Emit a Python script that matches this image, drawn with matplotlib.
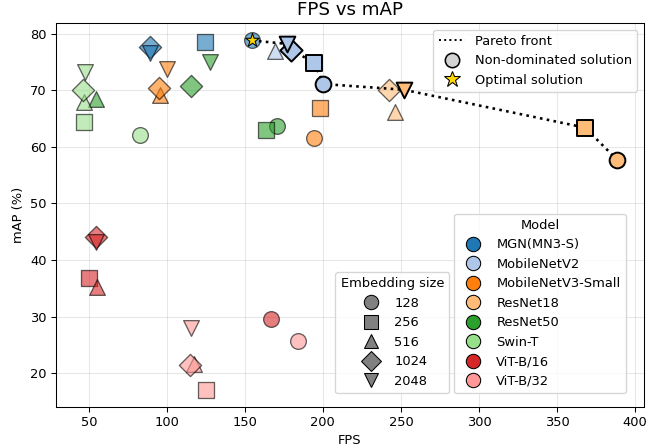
import numpy as np
import matplotlib.pyplot as plt
from matplotlib.lines import Line2D

# models and embedding sizes
models = ['MGN(MN3-S)', 'MobileNetV2', 'MobileNetV3-Small', 'ResNet18',
          'ResNet50', 'Swin-T', 'ViT-B/16', 'ViT-B/32']
colors = ['#1f77b4', '#aec7e8', '#ff7f0e', '#ffbb78',
          '#2ca02c', '#98df8a', '#d62728', '#ff9896']
emb_sizes = [128, 256, 516, 1024, 2048]
markers = ['o', 's', '^', 'D', 'v']

# FPS / mAP per model, columns follow emb_sizes (nan = not shown)
fps = [
    [154.6, 124.2, np.nan, 89.3, 89.5],
    [200.4, 194.5, 169.1, 179.8, 177.0],
    [194.0, 198.3, 95.5, 94.8, 100.2],
    [388.6, 367.9, 246.3, 242.1, 251.7],
    [170.6, 163.8, 54.9, 115.6, 127.9],
    [83.1, 46.8, 46.8, 46.2, 47.9],
    [166.9, 50.4, 55.4, 54.7, 54.7],
    [184.0, 125.2, 117.7, 115.1, 115.6],
]
mAP = [
    [78.8, 78.6, np.nan, 77.6, 76.5],
    [71.1, 74.8, 76.9, 77.2, 78.2],
    [61.5, 66.8, 69.2, 70.4, 73.8],
    [57.7, 63.4, 66.2, 70.0, 70.1],
    [63.6, 62.9, 68.5, 70.8, 75.0],
    [62.1, 64.4, 68.0, 70.1, 73.3],
    [29.6, 36.9, 35.2, 44.0, 43.2],
    [25.7, 17.1, 21.6, 21.4, 27.9],
]

# (model index, embedding index) of non-dominated points
pareto = [(0, 0), (1, 4), (1, 3), (1, 1), (1, 0), (3, 4), (3, 1), (3, 0)]
optimal = (0, 0)

DPI = 94
fig = plt.figure(figsize=(668 / DPI, 447 / DPI), dpi=DPI)
ax = fig.add_subplot(111)

for i, m in enumerate(models):
    for j, mk in enumerate(markers):
        if np.isnan(fps[i][j]):
            continue
        if (i, j) in pareto and (i, j) != optimal:
            ax.scatter(fps[i][j], mAP[i][j], s=145, marker=mk, color=colors[i],
                       edgecolors='black', linewidths=1.5, zorder=3)
        else:
            ax.scatter(fps[i][j], mAP[i][j], s=145, marker=mk, color=colors[i],
                       edgecolors='black', linewidths=1.0, alpha=0.6, zorder=2)

pf = sorted(pareto, key=lambda p: fps[p[0]][p[1]])
px = [fps[a][b] for a, b in pf]
py = [mAP[a][b] for a, b in pf]
ax.plot(px, py, ':', color='black', linewidth=2, zorder=2.5)

ax.scatter(fps[optimal[0]][optimal[1]], mAP[optimal[0]][optimal[1]], s=120,
           marker='*', color='gold', edgecolors='black', linewidths=0.8, zorder=4)

ax.set_title('FPS vs mAP', fontsize=14)
ax.set_xlabel('FPS', fontsize=10)
ax.set_ylabel('mAP (%)', fontsize=10)
ax.grid(True, alpha=0.3)

h1 = [Line2D([0], [0], linestyle=':', color='black', linewidth=1.5),
      Line2D([0], [0], marker='o', linestyle='', markersize=11,
             markerfacecolor='lightgray', markeredgecolor='black', markeredgewidth=1.2),
      Line2D([0], [0], marker='*', linestyle='', markersize=13,
             markerfacecolor='gold', markeredgecolor='black', markeredgewidth=0.8)]
leg1 = ax.legend(h1, ['Pareto front', 'Non-dominated solution', 'Optimal solution'],
                 loc='upper right', fontsize=10)
ax.add_artist(leg1)

h2 = [Line2D([0], [0], marker='o', linestyle='', markersize=11,
             markerfacecolor=c, markeredgecolor='black', markeredgewidth=0.8)
      for c in colors]
leg2 = ax.legend(h2, models, title='Model', loc='lower right', fontsize=10,
                 title_fontsize=10, bbox_to_anchor=(0.969, 0.036), borderaxespad=0)
ax.add_artist(leg2)

h3 = [Line2D([0], [0], marker=mk, linestyle='', markersize=11,
             markerfacecolor='gray', markeredgecolor='black', markeredgewidth=0.8)
      for mk in markers]
ax.legend(h3, [str(e) for e in emb_sizes], title='Embedding size', loc='lower right',
          fontsize=10, title_fontsize=10, bbox_to_anchor=(0.669, 0.036), borderaxespad=0)

fig.subplots_adjust(left=0.084, right=0.964, top=0.9485, bottom=0.0895)
fig.savefig('out.png', dpi=DPI)
